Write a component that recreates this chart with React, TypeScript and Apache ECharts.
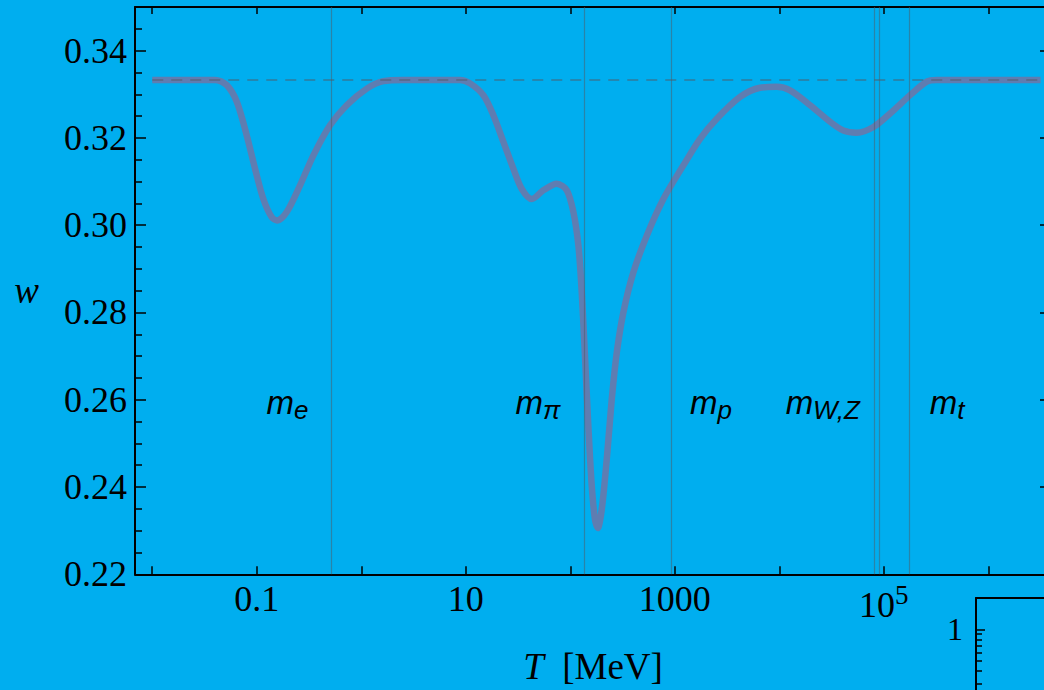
import React, { useEffect, useRef } from "react";
import * as echarts from "echarts";

// log10(T / MeV) of the sampled curve points
const logTemperature = [
  -2.0, -1.7, -1.4, -1.287, -1.191, -1.096, -1.016, -0.937, -0.856, -0.803,
  -0.713, -0.586, -0.458, -0.299, -0.139, 0.053, 0.211, 0.4, 0.7, 0.945,
  1.041, 1.168, 1.264, 1.36, 1.456, 1.536, 1.632, 1.742, 1.871, 1.967,
  2.03, 2.078, 2.11, 2.142, 2.173, 2.206, 2.237, 2.263, 2.301, 2.349,
  2.397, 2.445, 2.508, 2.604, 2.732, 2.891, 3.082, 3.242, 3.402, 3.625,
  3.816, 3.976, 4.103, 4.295, 4.486, 4.613, 4.742, 4.901, 5.06, 5.252,
  5.411, 5.507, 5.8, 6.2, 6.5,
];
// equation of state w
const eqOfState = [
  0.3333, 0.3333, 0.3333, 0.3321, 0.3283, 0.3206, 0.3129, 0.306, 0.3018, 0.3011,
  0.303, 0.3091, 0.316, 0.3229, 0.3275, 0.3313, 0.333, 0.3333, 0.3333, 0.3333,
  0.3325, 0.3298, 0.3252, 0.3191, 0.3129, 0.3083, 0.306, 0.308, 0.3095, 0.308,
  0.303, 0.2953, 0.2846, 0.2693, 0.2539, 0.2401, 0.2325, 0.2306, 0.2348, 0.2463,
  0.2601, 0.2708, 0.28, 0.2892, 0.2976, 0.306, 0.3137, 0.3198, 0.3244, 0.3294,
  0.3315, 0.3317, 0.3309, 0.3275, 0.3237, 0.3217, 0.3212, 0.3225, 0.3256, 0.3298,
  0.3329, 0.3333, 0.3333, 0.3333, 0.3333,
];

// particle mass thresholds, log10(m / MeV): e, pi, p, W, Z, t
const massLines = [-0.2916, 2.13, 2.972, 4.905, 4.96, 5.237];
const particleSubscripts = ["e", "π", "p", "W,Z", "t"];
const particleLabelLogT = [-0.911, 1.472, 3.14, 4.056, 5.436];
const particleLabelW = 0.2576;
const conformalW = 1 / 3;

const xMin = -2.165;
const xMax = 6.6;
const xTickValues = [-2, -1, 0, 1, 2, 3, 4, 5, 6];
const xLabelValues = [-1, 1, 3, 5];
const xLabelTexts = ["0.1", "10", "1000", "10^5"];
const yMin = 0.22;
const yMax = 0.35;
const yStep = 0.02;

// inset (partially visible) log axis
const insetMin = -1.5;
const insetMax = Math.log10(2);
const insetMajorTicks = [0, -1];
const insetLabelValues = [0];
const insetMinorTicks = [0.9, 0.8, 0.7, 0.6, 0.5, 0.4, 0.3, 0.2, 0.09, 0.08, 0.07, 0.06, 0.05, 0.04].map(
  (v) => Math.log10(v)
);

const serif = "'Liberation Serif', 'Times New Roman', serif";
const sans = "'Liberation Sans', Arial, sans-serif";
const BG = "#00AEEF";
const CURVE = "#5F7DB1";
const GUIDE = "rgba(80,90,100,0.5)";

export default function App() {
  const ref = useRef<HTMLDivElement>(null);

  useEffect(() => {
    if (!ref.current) return;
    const chart = echarts.init(ref.current, undefined, { renderer: "svg" });
    const curve = logTemperature.map((x, i) => [x, eqOfState[i]]);
    const labelPts = particleLabelLogT.map((x) => [x, particleLabelW]);

    const frameLine = { show: true, onZero: false, lineStyle: { color: "#000", width: 2 } };

    const option: any = {
      animation: false,
      backgroundColor: BG,
      grid: [
        { left: 135, top: 7, width: 916, height: 567.3, containLabel: false, outerBoundsMode: "none" },
        { left: 976, top: 598, width: 300, height: 187, containLabel: false, outerBoundsMode: "none" },
      ],
      xAxis: [
        {
          type: "value",
          gridIndex: 0,
          position: "bottom",
          min: xMin,
          max: xMax,
          axisLine: frameLine,
          axisTick: {
            show: true,
            inside: true,
            length: 8,
            customValues: xTickValues,
            lineStyle: { color: "#000", width: 1.5 },
          },
          axisLabel: {
            show: true,
            customValues: xLabelValues,
            margin: 7,
            formatter: (v: number) => {
              const idx = xLabelValues.indexOf(Math.round(v));
              const t = idx >= 0 ? xLabelTexts[idx] : "";
              if (t.indexOf("^") >= 0) {
                const [b, s] = t.split("^");
                return `{b|${b}}{s|${s}}`;
              }
              return `{a|${t}}`;
            },
            rich: {
              a: { fontFamily: serif, fontSize: 36, lineHeight: 36, color: "#000" },
              b: { fontFamily: serif, fontSize: 36, lineHeight: 48, color: "#000" },
              s: { fontFamily: serif, fontSize: 27, lineHeight: 27, verticalAlign: "top", color: "#000" },
            },
          },
          splitLine: { show: false },
          name: "{i|T}{r|\u2002[MeV]}",
          nameLocation: "middle",
          nameGap: 74,
          nameMoveOverlap: false,
          nameTextStyle: {
            rich: {
              i: { fontFamily: serif, fontStyle: "italic", fontSize: 37, lineHeight: 37, color: "#000" },
              r: { fontFamily: serif, fontSize: 37, lineHeight: 37, color: "#000" },
            },
          },
        },
        {
          type: "value",
          gridIndex: 0,
          position: "top",
          min: xMin,
          max: xMax,
          axisLine: frameLine,
          axisTick: {
            show: true,
            inside: true,
            length: 7,
            customValues: xTickValues,
            lineStyle: { color: "#000", width: 1.5 },
          },
          axisLabel: { show: false },
          splitLine: { show: false },
        },
        {
          type: "value",
          gridIndex: 1,
          position: "top",
          min: 0,
          max: 1,
          axisLine: frameLine,
          axisTick: { show: false },
          axisLabel: { show: false },
          splitLine: { show: false },
        },
      ],
      yAxis: [
        {
          type: "value",
          gridIndex: 0,
          position: "left",
          min: yMin,
          max: yMax,
          interval: yStep,
          axisLine: frameLine,
          axisTick: { show: true, inside: true, length: 11, lineStyle: { color: "#000", width: 1.5 } },
          minorTick: { show: true, splitNumber: 4, length: 7, lineStyle: { color: "#000", width: 1.5 } },
          axisLabel: {
            show: true,
            margin: 8,
            fontFamily: serif,
            fontSize: 36,
            color: "#000",
            formatter: (v: number) => v.toFixed(2),
            showMaxLabel: false,
          },
          splitLine: { show: false },
          minorSplitLine: { show: false },
          name: "w",
          nameLocation: "middle",
          nameRotate: 0,
          nameGap: 96,
          nameMoveOverlap: false,
          nameTextStyle: { fontFamily: serif, fontStyle: "italic", fontSize: 37, color: "#000" },
        },
        {
          type: "value",
          gridIndex: 0,
          position: "right",
          min: yMin,
          max: yMax,
          interval: yStep,
          axisLine: frameLine,
          axisTick: { show: true, inside: true, length: 11, lineStyle: { color: "#000", width: 1.5 } },
          minorTick: { show: true, splitNumber: 4, length: 7, lineStyle: { color: "#000", width: 1.5 } },
          axisLabel: { show: false },
          splitLine: { show: false },
        },
        {
          type: "value",
          gridIndex: 1,
          position: "left",
          min: insetMin,
          max: insetMax,
          axisLine: frameLine,
          axisTick: {
            show: true,
            inside: true,
            length: 9,
            customValues: insetMajorTicks,
            lineStyle: { color: "#000", width: 1.5 },
          },
          axisLabel: {
            show: true,
            customValues: insetLabelValues,
            margin: 13,
            fontFamily: serif,
            fontSize: 32,
            color: "#000",
            formatter: (v: number) => String(Math.round(Math.pow(10, v))),
          },
          splitLine: { show: false },
        },
        {
          type: "value",
          gridIndex: 1,
          position: "left",
          min: insetMin,
          max: insetMax,
          axisLine: { show: false },
          axisTick: {
            show: true,
            inside: true,
            length: 6,
            customValues: insetMinorTicks,
            lineStyle: { color: "#000", width: 1.5 },
          },
          axisLabel: { show: false },
          splitLine: { show: false },
        },
      ],
      series: [
        {
          name: "guides",
          type: "line",
          xAxisIndex: 0,
          yAxisIndex: 0,
          data: curve,
          showSymbol: false,
          lineStyle: { opacity: 0, width: 0 },
          silent: true,
          z: 1,
          markLine: {
            silent: true,
            symbol: ["none", "none"],
            label: { show: false },
            lineStyle: { color: GUIDE, width: 1.2, type: "solid" },
            data: [
              ...massLines.map((v) => ({ xAxis: v })),
              [
                {
                  coord: [logTemperature[0], conformalW],
                  lineStyle: { color: "rgba(80,90,100,0.6)", width: 1.5, type: [11, 8] },
                },
                { coord: [logTemperature[logTemperature.length - 1], conformalW] },
              ],
            ],
          },
        },
        {
          name: "w",
          type: "line",
          xAxisIndex: 0,
          yAxisIndex: 0,
          data: curve,
          smooth: 0.3,
          showSymbol: false,
          lineStyle: { color: CURVE, width: 6.5, cap: "butt", join: "round" },
          z: 3,
        },
        {
          name: "labels",
          type: "scatter",
          xAxisIndex: 0,
          yAxisIndex: 0,
          data: labelPts,
          symbol: "circle",
          symbolSize: 1,
          itemStyle: { color: "#000", opacity: 0 },
          silent: true,
          z: 4,
          label: {
            show: true,
            position: "right",
            distance: 0,
            color: "#000",
            opacity: 1,
            textBorderWidth: 0,
            formatter: (p: any) => `{m|m}{s|${particleSubscripts[p.dataIndex]}}`,
            rich: {
              m: {
                fontFamily: sans,
                fontStyle: "italic",
                fontSize: 33,
                lineHeight: 32,
                verticalAlign: "top",
                color: "#000",
                opacity: 1,
              },
              s: { fontFamily: sans, fontStyle: "italic", fontSize: 26, lineHeight: 49, color: "#000", opacity: 1 },
            },
          },
        },
      ],
    };

    chart.setOption(option);
    return () => chart.dispose();
  }, []);

  return (
    <div
      style={{
        position: "fixed",
        left: 0,
        top: 0,
        width: 1044,
        height: 690,
        overflow: "hidden",
        background: BG,
      }}
    >
      <div ref={ref} style={{ width: 1044, height: 690 }} />
    </div>
  );
}
